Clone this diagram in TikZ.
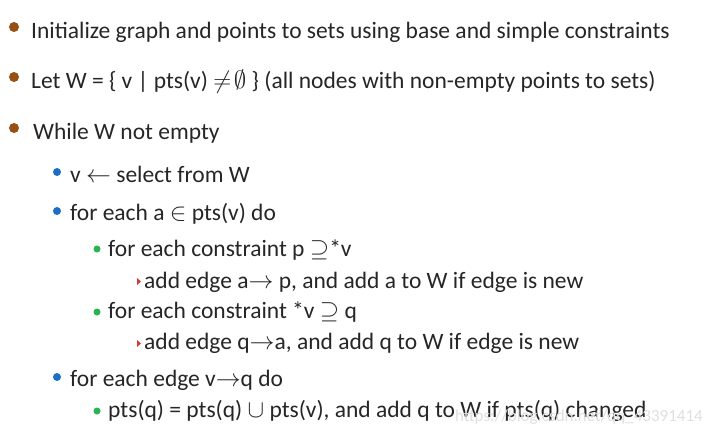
\documentclass[tikz,border=0pt]{standalone}
\usepackage{fontspec}
\usepackage{amssymb}
\setmainfont{Carlito}
\begin{document}
\begin{tikzpicture}[x=1pt,y=-1pt,
  t/.style={anchor=mid west,inner sep=0pt,font=\fontsize{23.5}{28}\selectfont,text=black!85},
  ts/.style={t,font=\fontsize{23.5}{28}\selectfont},
  b1/.style={circle,fill={rgb,255:red,150;green,80;blue,20},minimum size=10pt,inner sep=0pt},
  b2/.style={circle,fill={rgb,255:red,30;green,110;blue,200},minimum size=8pt,inner sep=0pt},
  b3/.style={circle,fill={rgb,255:red,40;green,180;blue,80},minimum size=7pt,inner sep=0pt},
  b4/.style={fill={rgb,255:red,210;green,60;blue,50}}]
\useasboundingbox (0,0) rectangle (711,438);
\fill[white] (0,0) rectangle (711,438);
\node[b1] (p1) at (14,27) {};
\node[t] (l1) at (31,36) {Initialize graph and points to sets using base and simple constraints};
\node[b1] (p2) at (14,77) {};
\node[t] (l2) at (31,86) {Let W = \{ v | pts(v) $\neq\!\emptyset$ \} (all nodes with non-empty points to sets)};
\node[b1] (p3) at (14,128) {};
\node[t] (l3) at (33,137) {While W not empty};
\node[b2] (p4) at (57,172) {};
\node[ts] (l4) at (70,180) {v $\leftarrow$ select from W};
\node[b2] (p5) at (57,211) {};
\node[ts] (l5) at (70,218) {for each a $\in$ pts(v) do};
\node[b3] (p6) at (97,249) {};
\node[ts] (l6) at (108,254) {for each constraint p $\supseteq$*v};
\node[b3] (p7) at (97,312) {};
\node[ts] (l7) at (108,316) {for each constraint *v $\supseteq$ q};
\fill[b4] (137,278) -- (141,281.5) -- (137,285) -- cycle;
\node[ts] (l8) at (144,286) {add edge a$\rightarrow$ p, and add a to W if edge is new};
\fill[b4] (137,340) -- (141,343.5) -- (137,347) -- cycle;
\node[ts] (l9) at (144,347) {add edge q$\rightarrow$a, and add q to W if edge is new};
\node[b2] (p8) at (57,377) {};
\node[ts] (l10) at (70,384) {for each edge v$\rightarrow$q do};
\node[b3] (p9) at (97,411) {};
\node[ts] (l11) at (108,415) {pts(q) = pts(q) $\cup$ pts(v), and add q to W if pts(q) changed};
\node[anchor=mid east,inner sep=0pt,font=\fontsize{17}{20}\selectfont,text=black!12] (wm) at (703,419) {https://blog.csdn.net/qq\_43391414};
\end{tikzpicture}
\end{document}
